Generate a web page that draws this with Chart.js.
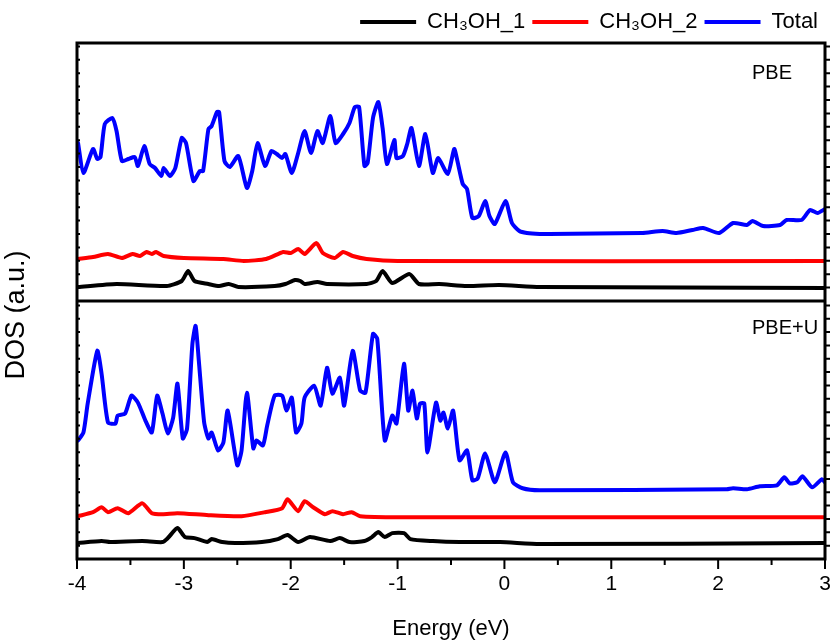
<!DOCTYPE html>
<html>
<head>
<meta charset="utf-8">
<script src="https://cdn.jsdelivr.net/npm/chart.js@4.4.1/dist/chart.umd.min.js"></script>
<style>
  html, body { margin: 0; padding: 0; background: #fff; }
  #wrap { width: 835px; height: 644px; }
</style>
</head>
<body>
<div id="wrap"><canvas id="dos"></canvas></div>
<script>
// energies (eV) and DOS (a.u.)
var pbeTotalE = [-3.99,-3.94,-3.85,-3.81,-3.78,-3.74,-3.67,-3.63,-3.58,-3.52,-3.46,-3.43,-3.37,-3.32,-3.27,-3.21,-3.19,-3.13,-3.08,-3.02,-2.98,-2.91,-2.85,-2.82,-2.77,-2.74,-2.69,-2.67,-2.62,-2.57,-2.49,-2.41,-2.36,-2.31,-2.24,-2.18,-2.13,-2.08,-2.05,-1.99,-1.93,-1.87,-1.81,-1.75,-1.70,-1.63,-1.58,-1.51,-1.45,-1.40,-1.36,-1.31,-1.28,-1.23,-1.18,-1.14,-1.10,-1.03,-1.01,-0.95,-0.91,-0.87,-0.80,-0.74,-0.67,-0.62,-0.53,-0.47,-0.44,-0.39,-0.35,-0.30,-0.24,-0.18,-0.14,-0.09,0.01,0.07,0.14,0.21,0.33,0.42,1.29,1.48,1.61,1.76,1.86,2.01,2.14,2.27,2.32,2.42,2.58,2.64,2.78,2.86,2.93,3.00];
var pbeTotal = [158,128,152,142,144,177,183,170,140,142,144,135,155,137,133,125,133,125,133,163,158,120,130,130,172,175,189,189,140,134,145,113,130,158,135,150,147,143,147,128,148,170,148,170,158,185,158,167,178,194,194,135,138,183,199,173,137,161,143,145,157,173,135,167,128,143,127,152,140,117,112,83,85,100,85,77,100,78,70,68,67,67,68,70,68,71,73,68,78,76,80,75,76,81,81,91,88,92];

var pbeMol2E = [-3.99,-3.85,-3.71,-3.58,-3.48,-3.41,-3.35,-3.30,-3.26,-3.19,-3.00,-2.63,-2.44,-2.23,-2.07,-2.00,-1.93,-1.87,-1.76,-1.70,-1.59,-1.51,-1.42,-1.29,-1.00,3.00];
var pbeMol2 = [42,44,47,43,47,45,49,47,49,45,43,42,40,42,49,48,52,47,58,48,43,49,45,42,40,40];

var pbeMol1E = [-3.99,-3.63,-3.16,-3.02,-2.96,-2.90,-2.77,-2.67,-2.58,-2.49,-2.15,-2.05,-1.96,-1.91,-1.87,-1.75,-1.66,-1.29,-1.20,-1.14,-1.05,-0.89,-0.80,-0.61,-0.35,-0.05,0.33,3.00];
var pbeMol1 = [14,17,15,20,30,20,17,15,17,14,15,17,21,20,17,19,17,17,20,30,18,27,17,17,15,16,14,13];

var pbeuTotalE = [-3.99,-3.94,-3.90,-3.81,-3.77,-3.71,-3.64,-3.62,-3.55,-3.49,-3.43,-3.36,-3.30,-3.25,-3.20,-3.15,-3.10,-3.06,-3.01,-2.97,-2.92,-2.89,-2.86,-2.81,-2.77,-2.74,-2.68,-2.63,-2.59,-2.50,-2.46,-2.41,-2.35,-2.32,-2.26,-2.22,-2.15,-2.08,-2.04,-1.99,-1.95,-1.90,-1.87,-1.78,-1.72,-1.66,-1.61,-1.54,-1.50,-1.42,-1.35,-1.30,-1.23,-1.19,-1.12,-1.05,-1.01,-0.94,-0.90,-0.86,-0.82,-0.79,-0.75,-0.72,-0.64,-0.60,-0.57,-0.53,-0.48,-0.42,-0.35,-0.30,-0.25,-0.18,-0.09,0.01,0.08,0.17,0.33,2.08,2.14,2.27,2.39,2.55,2.62,2.67,2.74,2.79,2.88,2.97,3.00];
var pbeuTotal = [119,127,156,209,186,137,136,144,146,164,157,139,127,164,146,126,142,176,121,131,216,234,199,137,121,127,109,117,149,94,109,167,111,119,114,134,164,164,149,162,127,136,162,174,154,192,166,182,154,209,169,167,226,221,119,144,136,196,149,169,141,156,156,107,157,139,147,131,149,99,109,79,81,106,77,107,77,71,69,70,71,70,73,74,82,76,77,83,72,80,77];

var pbeuMol2E = [-3.99,-3.85,-3.77,-3.71,-3.62,-3.52,-3.39,-3.30,-3.20,-3.06,-2.77,-2.46,-2.24,-2.08,-2.03,-1.93,-1.87,-1.79,-1.68,-1.61,-1.51,-1.43,-1.35,-0.98,3.00];
var pbeuMol2 = [43,47,52,47,51,46,56,46,45,46,44,43,47,51,60,48,58,52,45,48,45,47,43,42,42];

var pbeuMol1E = [-3.99,-3.77,-3.69,-3.39,-3.20,-3.15,-3.06,-2.99,-2.90,-2.78,-2.74,-2.64,-2.52,-2.27,-2.12,-2.03,-1.93,-1.82,-1.63,-1.54,-1.45,-1.31,-1.24,-1.18,-1.12,-1.05,-0.94,-0.88,-0.67,-0.42,-0.04,0.33,3.00];
var pbeuMol1 = [16,18,17,18,17,21,31,22,21,17,20,17,16,17,20,24,17,22,18,21,17,18,22,27,22,26,26,20,18,17,17,15,16];

var seriesNames = ["CH\u2083OH_1", "CH\u2083OH_2", "Total"];
var seriesColors = ["#000000", "#ff0000", "#0000ff"];
var panelNames = ["PBE", "PBE+U"];
var xTicks = [-4, -3, -2, -1, 0, 1, 2, 3];

var fontFamily = '"Liberation Sans", Arial, Helvetica, sans-serif';

function pts(xs, ys) {
    return xs.map(function (x, i) { return { x: x, y: ys[i] }; });
}

function line(label, xs, ys, color, axis) {
    return {
        label: label,
        data: pts(xs, ys),
        borderColor: color,
        backgroundColor: color,
        borderWidth: 4,
        pointRadius: 0,
        fill: false,
        tension: 0.2,
        borderJoinStyle: "round",
        borderCapStyle: "round",
        yAxisID: axis,
    };
}

// frame, minor ticks, panel names and y title
var framePlugin = {
    id: "frame",
    afterDatasetsDraw: function (chart) {
        var ctx = chart.ctx, a = chart.chartArea;
        var xs = chart.scales.x, yt = chart.scales.yTop, yb = chart.scales.yBot;
        ctx.save();
        ctx.strokeStyle = "#000";
        ctx.lineWidth = 3;
        ctx.strokeRect(a.left, a.top, a.right - a.left, a.bottom - a.top);
        ctx.beginPath();
        ctx.moveTo(a.left, yt.bottom);
        ctx.lineTo(a.right, yt.bottom);
        ctx.stroke();

        ctx.lineWidth = 2;
        ctx.beginPath();
        for (var i = xTicks[0] * 2; i <= xTicks[xTicks.length - 1] * 2; i++) {
            var px = xs.getPixelForValue(i / 2);
            ctx.moveTo(px, a.bottom);
            ctx.lineTo(px, a.bottom + (i % 2 === 0 ? 10 : 6));
        }
        [yt, yb].forEach(function (s) {
            for (var v = 13.4; v < s.max; v += 13.4) {
                var py = s.getPixelForValue(v);
                ctx.moveTo(a.left, py);
                ctx.lineTo(a.left + 3, py);
                ctx.moveTo(a.right, py);
                ctx.lineTo(a.right + 5, py);
            }
        });
        ctx.stroke();

        ctx.fillStyle = "#000";
        ctx.font = "20px " + fontFamily;
        ctx.textAlign = "left";
        ctx.textBaseline = "middle";
        ctx.fillText(panelNames[0], a.right - 73, yt.top + 30);
        ctx.fillText(panelNames[1], a.right - 73, yb.top + 27);

        ctx.font = "27px " + fontFamily;
        ctx.textAlign = "center";
        ctx.translate(17, (a.top + a.bottom) / 2 + 14);
        ctx.rotate(-Math.PI / 2);
        ctx.fillText("DOS (a.u.)", 0, 0);
        ctx.restore();
    },
};

var ctx = document.getElementById("dos").getContext("2d");
new Chart(ctx, {
    type: "line",
    data: {
        datasets: [
            line(seriesNames[0], pbeMol1E, pbeMol1, seriesColors[0], "yTop"),
            line(seriesNames[1], pbeMol2E, pbeMol2, seriesColors[1], "yTop"),
            line(seriesNames[2], pbeTotalE, pbeTotal, seriesColors[2], "yTop"),
            line(seriesNames[0] + " U", pbeuMol1E, pbeuMol1, seriesColors[0], "yBot"),
            line(seriesNames[1] + " U", pbeuMol2E, pbeuMol2, seriesColors[1], "yBot"),
            line(seriesNames[2] + " U", pbeuTotalE, pbeuTotal, seriesColors[2], "yBot"),
        ],
    },
    options: {
        responsive: true,
        maintainAspectRatio: false,
        animation: false,
        layout: {
            padding: { left: 77, right: 10, top: 4, bottom: 0 },
        },
        plugins: {
            tooltip: { enabled: false },
            legend: {
                display: true,
                position: "top",
                align: "end",
                labels: {
                    boxWidth: 56,
                    boxHeight: 4,
                    padding: 7,
                    color: "#000",
                    font: { size: 22, family: fontFamily },
                    generateLabels: function (chart) {
                        return Chart.defaults.plugins.legend.labels.generateLabels(chart)
                            .filter(function (l) { return l.datasetIndex < 3; })
                            .map(function (l) { l.lineWidth = 0; return l; });
                    },
                },
            },
        },
        scales: {
            x: {
                type: "linear",
                min: -4,
                max: 3,
                grid: { display: false },
                border: { display: false },
                ticks: {
                    stepSize: 1,
                    color: "#000",
                    padding: 5,
                    font: { size: 21, family: fontFamily },
                },
                title: {
                    display: true,
                    text: "Energy (eV)",
                    color: "#000",
                    font: { size: 22, family: fontFamily },
                    padding: { top: 0, bottom: 2 },
                },
                afterFit: function (s) {
                    s.height = 85;
                    s.paddingLeft = 0;
                    s.paddingRight = 0;
                },
            },
            yBot: {
                type: "linear",
                display: false,
                stack: "dos",
                stackWeight: 1,
                min: 0,
                max: 259,
            },
            yTop: {
                type: "linear",
                display: false,
                stack: "dos",
                stackWeight: 1,
                min: 0,
                max: 258,
            },
        },
    },
    plugins: [framePlugin],
});
</script>
</body>
</html>
